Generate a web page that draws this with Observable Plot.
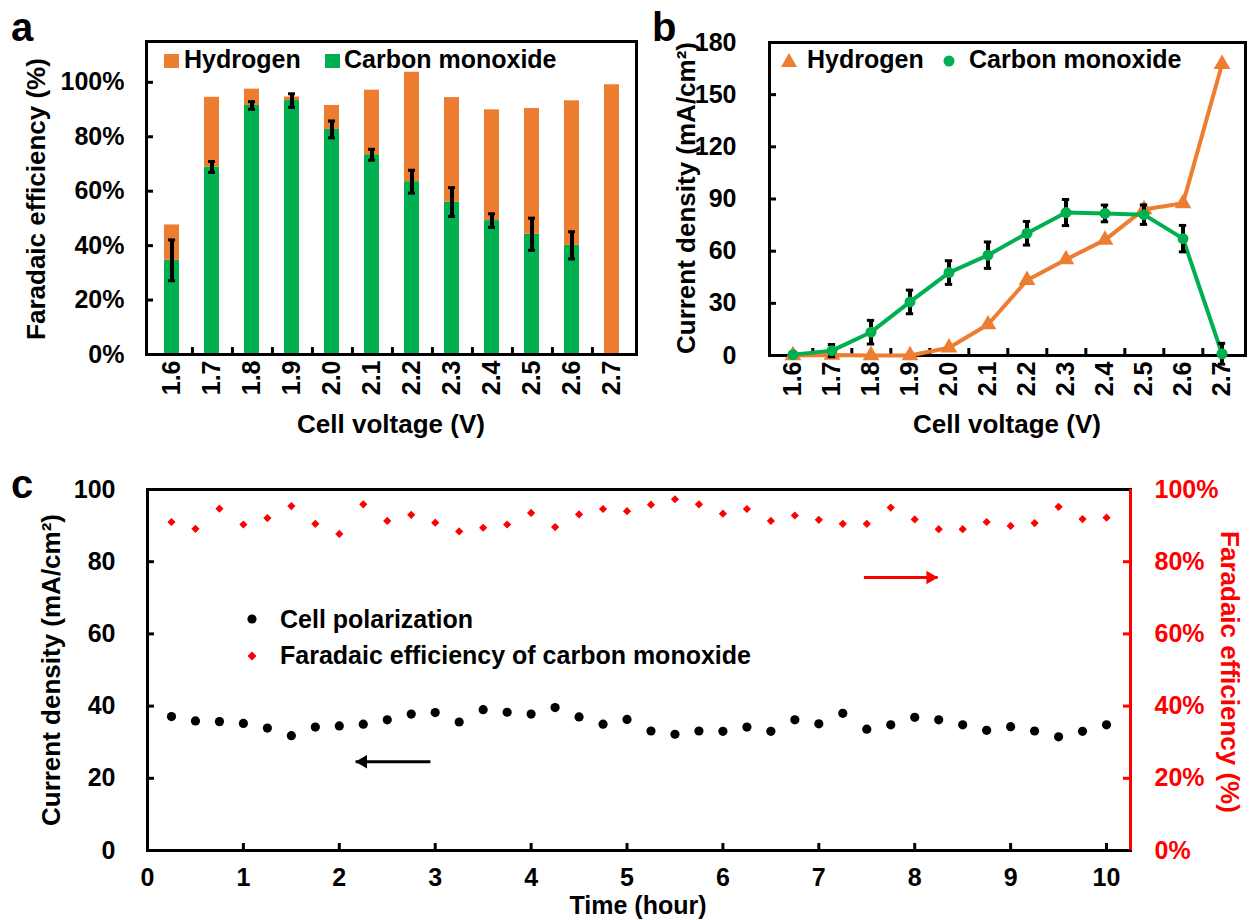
<!DOCTYPE html>
<html>
<head>
<meta charset="utf-8">
<script src="https://cdn.jsdelivr.net/npm/d3@7"></script>
<script src="https://cdn.jsdelivr.net/npm/@observablehq/plot@0.6"></script>
<style>
html,body{margin:0;padding:0;background:#fff;}
#root{position:relative;width:1249px;height:920px;overflow:hidden;background:#fff;
 font-family:"Liberation Sans",Arial,Helvetica,sans-serif;font-weight:bold;color:#000;}
.txt{position:absolute;white-space:nowrap;line-height:1;}
</style>
</head>
<body>
<div id="root"></div>
<script>
// ---------------- DATA ----------------
const voltages = ["1.6","1.7","1.8","1.9","2.0","2.1","2.2","2.3","2.4","2.5","2.6","2.7"];
// panel a: Faradaic efficiency (%)
const coFE    = [34.6, 68.9, 91.5, 93.3, 82.7, 73.4, 63.5, 56.0, 49.2, 44.2, 40.1, 0];
const coFEErr = [7.5, 2.0, 1.4, 2.5, 3.1, 2.0, 4.2, 5.3, 2.5, 5.9, 5.0, 0];
const h2FE    = [13.0, 25.6, 6.0, 1.3, 8.8, 23.7, 40.2, 38.4, 40.7, 46.2, 53.1, 99.1];
// panel b: partial current density (mA/cm2)
const h2Current    = [0, 0.3, 0, 0, 4.5, 17.8, 43.3, 55.2, 66.5, 84.0, 87.5, 167.5];
const coCurrent    = [0.5, 2.8, 13.4, 30.8, 47.7, 57.7, 70.3, 82.2, 81.7, 81.0, 67.2, 1.0];
const coCurrentErr = [1.0, 3.5, 6.8, 6.8, 6.8, 7.6, 6.8, 7.5, 4.8, 5.6, 7.6, 6.0];
// panel c: stability test
const hours = [0.25, 0.5, 0.75, 1.0, 1.25, 1.5, 1.75, 2.0, 2.25, 2.5, 2.75, 3.0, 3.25, 3.5, 3.75, 4.0, 4.25, 4.5, 4.75, 5.0,
               5.25, 5.5, 5.75, 6.0, 6.25, 6.5, 6.75, 7.0, 7.25, 7.5, 7.75, 8.0, 8.25, 8.5, 8.75, 9.0, 9.25, 9.5, 9.75, 10.0];
const cellCurrent = [37.1, 35.9, 35.7, 35.2, 33.9, 31.8, 34.2, 34.5, 35.0, 36.2, 37.8, 38.2, 35.6, 39.0, 38.3, 37.8, 39.6, 37.0, 35.0, 36.3,
                     33.1, 32.2, 33.1, 33.0, 34.2, 33.0, 36.2, 35.1, 38.0, 33.6, 34.8, 36.9, 36.2, 34.8, 33.3, 34.3, 33.1, 31.5, 33.0, 34.8];
const coFEStability = [91.0, 89.1, 94.7, 90.3, 92.1, 95.4, 90.5, 87.7, 95.9, 91.3, 93.0, 90.8, 88.4, 89.4, 90.3, 93.5, 89.6, 93.1, 94.6, 94.0,
                       95.8, 97.3, 95.9, 93.3, 94.6, 91.3, 92.8, 91.6, 90.5, 90.5, 95.0, 91.7, 89.0, 89.0, 91.0, 89.9, 90.7, 95.2, 91.8, 92.2];
// arrow annotations (data coordinates of panel c)
const arrowToLeftAxis  = [{from: 2.95, to: 2.17, level: 24.6}];
const arrowToRightAxis = [{from: 7.47, to: 8.24, level: 75.6}];
// ticks
const yTicksA = [0, 20, 40, 60, 80, 100];
const yTicksB = [0, 30, 60, 90, 120, 150, 180];
const yTicksC = [0, 20, 40, 60, 80, 100];
const xTicksC = [0, 1, 2, 3, 4, 5, 6, 7, 8, 9, 10];
const yDomainA = [0, 115], yDomainB = [0, 180], yDomainC = [0, 100], xDomainC = [0, 10.25];

// ---------------- STYLE / LAYOUT ----------------
const root = document.getElementById("root");
const ORANGE = "#ED7D31", GREEN = "#00B050", RED = "#FF0000";
const FONT = '"Liberation Sans", Arial, Helvetica, sans-serif';
const ASC = 0.8465;
const plotStyle = {fontFamily: FONT, fontSize: "25px", fontWeight: "bold", color: "#000",
                   background: "transparent", overflow: "visible"};

function addText(str, x, y, {size = 26, color = "#000", anchor = "start"} = {}) {
  const el = document.createElement("div");
  el.className = "txt";
  el.textContent = str;
  el.style.fontSize = size + "px";
  el.style.color = color;
  el.style.left = x + "px";
  el.style.top = (y - ASC * size) + "px";
  if (anchor === "middle") el.style.transform = "translateX(-50%)";
  root.appendChild(el);
}
function addVText(str, cx, cy, angle, {size = 26, color = "#000"} = {}) {
  const el = document.createElement("div");
  el.className = "txt";
  el.textContent = str;
  el.style.fontSize = size + "px";
  el.style.color = color;
  el.style.left = cx + "px";
  el.style.top = cy + "px";
  el.style.transform = `translate(-50%,-50%) rotate(${angle}deg)`;
  root.appendChild(el);
}
function place(chart, L) {
  const d = document.createElement("div");
  d.style.cssText = `position:absolute;left:${L.left}px;top:${L.top}px;width:${L.width}px;height:${L.height}px;`;
  d.appendChild(chart);
  root.appendChild(d);
}

// ---------------- PANEL A ----------------
const LA = {left: 0, top: 0, width: 640, height: 420, ml: 146, mr: 4, mt: 41, mb: 66};
const fwA = LA.width - LA.ml - LA.mr, fhA = LA.height - LA.mt - LA.mb;
const stepA = fwA / voltages.length;
const rowsA = voltages.map((v, i) => ({v, co: coFE[i], h2: h2FE[i], err: coFEErr[i]}));
const errA = rowsA.filter(d => d.err > 0);
const plotA = Plot.plot({
  width: LA.width, height: LA.height,
  marginLeft: LA.ml, marginRight: LA.mr, marginTop: LA.mt, marginBottom: LA.mb,
  style: plotStyle,
  x: {domain: voltages, paddingInner: 0.63, paddingOuter: 0.315},
  y: {domain: yDomainA},
  marks: [
    Plot.barY(rowsA, {x: "v", y1: 0, y2: "co", fill: GREEN}),
    Plot.barY(rowsA, {x: "v", y1: "co", y2: d => d.co + d.h2, fill: ORANGE}),
    Plot.ruleX(errA, {x: "v", y1: d => d.co - d.err, y2: d => d.co + d.err, stroke: "#000", strokeWidth: 4}),
    Plot.tickY(errA, {x: "v", y: d => d.co + d.err, stroke: "#000", strokeWidth: 3, insetLeft: 4, insetRight: 4}),
    Plot.tickY(errA, {x: "v", y: d => d.co - d.err, stroke: "#000", strokeWidth: 3, insetLeft: 4, insetRight: 4}),
    Plot.tickY(yTicksA, {y: d => d, insetRight: fwA - 7, stroke: "#000", strokeWidth: 3}),
    Plot.tickX(voltages.slice(0, -1), {x: d => d, dx: stepA / 2, insetTop: fhA - 7, stroke: "#000", strokeWidth: 3}),
    Plot.frame({stroke: "#000", strokeWidth: 3}),
    Plot.axisY({ticks: yTicksA, tickSize: 0, tickPadding: 22, tickFormat: d => d + "%", label: null}),
    Plot.axisX({tickSize: 0, tickPadding: 6, tickRotate: -90, label: null})
  ]
});
place(plotA, LA);

// ---------------- PANEL B ----------------
const LB = {left: 640, top: 0, width: 609, height: 420, ml: 129, mr: 4, mt: 42, mb: 65};
const fwB = LB.width - LB.ml - LB.mr, fhB = LB.height - LB.mt - LB.mb;
const stepB = fwB / voltages.length;
const rowsH2 = voltages.map((v, i) => ({v, j: h2Current[i]}));
const rowsCO = voltages.map((v, i) => ({v, j: coCurrent[i], err: coCurrentErr[i]}));
const plotB = Plot.plot({
  width: LB.width, height: LB.height,
  marginLeft: LB.ml, marginRight: LB.mr, marginTop: LB.mt, marginBottom: LB.mb,
  style: plotStyle,
  x: {domain: voltages, padding: 0},
  y: {domain: yDomainB},
  marks: [
    Plot.tickY(yTicksB, {y: d => d, insetRight: fwB - 7, stroke: "#000", strokeWidth: 3}),
    Plot.tickX(voltages.slice(0, -1), {x: d => d, dx: stepB / 2, insetTop: fhB - 7, stroke: "#000", strokeWidth: 3}),
    Plot.frame({stroke: "#000", strokeWidth: 3}),
    Plot.line(rowsH2, {x: "v", y: "j", stroke: ORANGE, strokeWidth: 4}),
    Plot.dot(rowsH2, {x: "v", y: "j", symbol: "triangle", r: 6.2, fill: ORANGE, stroke: null}),
    Plot.line(rowsCO, {x: "v", y: "j", stroke: GREEN, strokeWidth: 4}),
    Plot.ruleX(rowsCO, {x: "v", y1: d => d.j - d.err, y2: d => d.j + d.err, stroke: "#000", strokeWidth: 4}),
    Plot.tickY(rowsCO, {x: "v", y: d => d.j + d.err, stroke: "#000", strokeWidth: 3, insetLeft: stepB / 2 - 4, insetRight: stepB / 2 - 4}),
    Plot.tickY(rowsCO, {x: "v", y: d => d.j - d.err, stroke: "#000", strokeWidth: 3, insetLeft: stepB / 2 - 4, insetRight: stepB / 2 - 4}),
    Plot.dot(rowsCO, {x: "v", y: "j", r: 5.5, fill: GREEN, stroke: null}),
    Plot.axisY({ticks: yTicksB, tickSize: 0, tickPadding: 33, label: null}),
    Plot.axisX({tickSize: 0, tickPadding: 6, tickRotate: -90, label: null})
  ]
});
place(plotB, LB);

// ---------------- PANEL C ----------------
const LC = {left: 0, top: 460, width: 1249, height: 460, ml: 147, mr: 119, mt: 29, mb: 70};
const fwC = LC.width - LC.ml - LC.mr, fhC = LC.height - LC.mt - LC.mb;
const rowsC = hours.map((t, i) => ({t, j: cellCurrent[i], fe: coFEStability[i]}));
const plotC = Plot.plot({
  width: LC.width, height: LC.height,
  marginLeft: LC.ml, marginRight: LC.mr, marginTop: LC.mt, marginBottom: LC.mb,
  style: plotStyle,
  x: {domain: xDomainC},
  y: {domain: yDomainC},
  marks: [
    Plot.tickY(yTicksC, {y: d => d, insetRight: fwC - 7, stroke: "#000", strokeWidth: 3}),
    Plot.tickY(yTicksC, {y: d => d, insetLeft: fwC - 7, stroke: RED, strokeWidth: 3}),
    Plot.tickX(xTicksC, {x: d => d, insetTop: fhC - 7, stroke: "#000", strokeWidth: 3}),
    Plot.frame({stroke: "#000", strokeWidth: 3}),
    Plot.ruleX([xDomainC[1]], {x: d => d, stroke: RED, strokeWidth: 3}),
    Plot.dot(rowsC, {x: "t", y: "fe", symbol: "diamond2", r: 3.7, fill: RED, stroke: null}),
    Plot.dot(rowsC, {x: "t", y: "j", r: 4.6, fill: "#000", stroke: null}),
    Plot.link(arrowToLeftAxis, {x1: "from", x2: "to", y1: "level", y2: "level", stroke: "#000", strokeWidth: 3}),
    Plot.dot(arrowToLeftAxis, {x: "to", y: "level", symbol: "triangle", r: 5, rotate: -90, dx: 7.5, fill: "#000", stroke: null}),
    Plot.link(arrowToRightAxis, {x1: "from", x2: "to", y1: "level", y2: "level", stroke: RED, strokeWidth: 3}),
    Plot.dot(arrowToRightAxis, {x: "to", y: "level", symbol: "triangle", r: 5, rotate: 90, dx: -7.5, fill: RED, stroke: null}),
    Plot.axisY({ticks: yTicksC, tickSize: 0, tickPadding: 32, label: null}),
    Plot.axisY({anchor: "right", ticks: yTicksC, tickSize: 0, tickPadding: 24, tickFormat: d => d + "%", fill: RED, label: null}),
    Plot.axisX({ticks: xTicksC, tickSize: 0, tickPadding: 18, label: null})
  ]
});
place(plotC, LC);

// ---------------- LEGEND SYMBOLS ----------------
const ns = "http://www.w3.org/2000/svg";
const ov = document.createElementNS(ns, "svg");
ov.setAttribute("width", 1249); ov.setAttribute("height", 920);
ov.style.cssText = "position:absolute;left:0;top:0;pointer-events:none;overflow:visible;";
ov.innerHTML = `
  <rect x="164" y="54" width="15" height="14" fill="${ORANGE}"/>
  <rect x="325" y="54" width="15" height="14" fill="${GREEN}"/>
  <path d="M789,53 L797,67 L781,67 Z" fill="${ORANGE}"/>
  <circle cx="949" cy="61" r="5.5" fill="${GREEN}"/>
  <circle cx="252" cy="619" r="4.6" fill="#000"/>
  <path d="M252,651.5 L256.5,656 L252,660.5 L247.5,656 Z" fill="${RED}"/>`;
root.appendChild(ov);

// ---------------- TEXT ----------------
addText("a", 11, 41, {size: 40});
addText("b", 652, 41, {size: 40});
addText("c", 11, 498, {size: 40});

addText("Hydrogen", 184, 68, {size: 25});
addText("Carbon monoxide", 344, 68, {size: 25});
addText("Hydrogen", 807, 68, {size: 25});
addText("Carbon monoxide", 969, 68, {size: 25});
addText("Cell polarization", 280, 628, {size: 25});
addText("Faradaic efficiency of carbon monoxide", 280, 664, {size: 25});

addVText("Faradaic efficiency (%)", 36, 199, -90, {size: 26});
addText("Cell voltage (V)", 391, 433, {size: 26, anchor: "middle"});
addVText("Current density (mA/cm²)", 686, 198, -90, {size: 26});
addText("Cell voltage (V)", 1007, 433, {size: 26, anchor: "middle"});
addVText("Current density (mA/cm²)", 51, 670, -90, {size: 26});
addVText("Faradaic efficiency (%)", 1230, 672, 90, {size: 26, color: RED});
addText("Time (hour)", 638, 914, {size: 25, anchor: "middle"});
</script>
</body>
</html>
